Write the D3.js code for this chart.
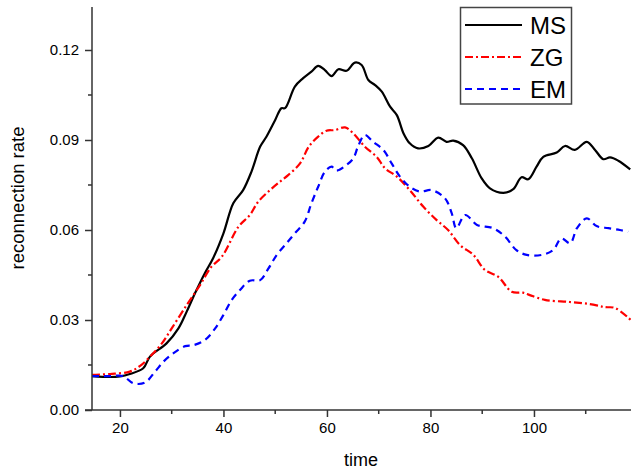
<!DOCTYPE html>
<html>
<head>
<meta charset="utf-8">
<script src="https://cdn.jsdelivr.net/npm/d3@7"></script>
<style>
  body { margin: 0; background: #fff; }
  svg { display: block; font-family: "Liberation Sans", Arial, sans-serif; }
  .axis path, .axis line { stroke: #333; stroke-width: 1.5; }
  .axis text { font-size: 15px; fill: #000; }
</style>
</head>
<body>
<svg id="chart" width="631" height="472"></svg>
<script>
// series: [time, rate]
const msData = [[14.6,0.0113],[18.1,0.0110],[20,0.0112],[21.9,0.0120],[24.5,0.0139],[25.8,0.0178],
  [29.0,0.0222],[31.3,0.0272],[32.9,0.0328],[34.5,0.0389],[36.4,0.0456],[38.0,0.0506],[40.0,0.0589],
  [41.9,0.0689],[43.8,0.0733],[45.4,0.0794],[47.1,0.0878],[48.3,0.0911],[50.0,0.0967],[51.2,0.1006],
  [51.9,0.1006],[53.8,0.1078],[55.4,0.1106],[57.0,0.1128],[58.3,0.1147],[59.6,0.1133],[60.9,0.1113],
  [62.2,0.1136],[63.8,0.1131],[65.4,0.1158],[66.7,0.1150],[68.0,0.1100],[69.3,0.1083],[70.6,0.1061],
  [72.2,0.1011],[73.5,0.0983],[74.8,0.0922],[76.0,0.0889],[77.6,0.0872],[79.6,0.0880],[81.5,0.0908],
  [83.1,0.0894],[84.4,0.0898],[86.3,0.0883],[88.0,0.0839],[89.9,0.0772],[91.5,0.0739],[94.1,0.0724],
  [96.0,0.0736],[97.6,0.0776],[98.9,0.0769],[100.5,0.0811],[101.8,0.0844],[104.4,0.0858],[106.0,0.0880],
  [107.9,0.0867],[110.2,0.0894],[111.8,0.0867],[113.4,0.0836],[114.7,0.0842],[116.3,0.0831],[118.6,0.0802]];

const zgData = [[14.6,0.0117],[18.1,0.0120],[21.9,0.0128],[23.9,0.0147],[26.1,0.0183],[28.1,0.0222],
  [30.0,0.0272],[32.9,0.0350],[35.5,0.0417],[37.7,0.0478],[39.7,0.0511],[42.9,0.0611],[45.1,0.0650],
  [46.7,0.0694],[49.0,0.0733],[50.9,0.0761],[52.5,0.0783],[54.8,0.0822],[56.5,0.0878],[58.3,0.0911],
  [59.9,0.0931],[61.5,0.0933],[63.5,0.0942],[65.1,0.0922],[67.3,0.0878],[69.6,0.0844],[71.2,0.0806],
  [73.5,0.0778],[76.0,0.0733],[78.6,0.0678],[81.2,0.0633],[83.4,0.0600],[85.7,0.0550],[88.3,0.0517],
  [90.5,0.0467],[93.1,0.0444],[95.7,0.0394],[97.9,0.0391],[99.2,0.0383],[102.1,0.0367],[106.9,0.0360],
  [110.8,0.0353],[113.7,0.0343],[115.7,0.0340],[118.7,0.0300]];

const emData = [[14.6,0.0113],[18.1,0.0113],[20.6,0.0113],[22.6,0.0089],[24.8,0.0091],[26.8,0.0128],
  [28.4,0.0161],[30.3,0.0189],[32.6,0.0213],[34.2,0.0216],[36.4,0.0233],[38.4,0.0272],[40.0,0.0317],
  [41.6,0.0367],[43.2,0.0400],[45.1,0.0431],[47.1,0.0433],[48.7,0.0472],[50.3,0.0517],[52.2,0.0556],
  [53.8,0.0589],[55.7,0.0628],[57.0,0.0689],[58.3,0.0744],[59.6,0.0794],[60.9,0.0811],[61.8,0.0798],
  [63.8,0.0817],[65.1,0.0839],[66.0,0.0878],[67.3,0.0917],[68.9,0.0894],[70.9,0.0867],[72.5,0.0822],
  [74.1,0.0778],[76.0,0.0744],[78.0,0.0728],[80.2,0.0733],[82.8,0.0706],[84.1,0.0656],[85.0,0.0606],
  [86.7,0.0650],[89.0,0.0617],[92.1,0.0606],[94.4,0.0578],[96.6,0.0533],[98.6,0.0517],[101.5,0.0517],
  [103.7,0.0533],[105.3,0.0572],[107.0,0.0556],[108.3,0.0606],[110.2,0.0639],[112.1,0.0613],
  [114.4,0.0606],[116.6,0.0600],[118.2,0.0594]];

const seriesNames = ["MS", "ZG", "EM"];
const xTicks = [20, 40, 60, 80, 100];
const xMinor = [30, 50, 70, 90, 110];
const yTicks = [0, 0.03, 0.06, 0.09, 0.12];
const yMinor = [0.015, 0.045, 0.075, 0.105];

const styles = {
  MS: { color: "#000000", dash: null },
  ZG: { color: "#ff0000", dash: "8,3,2,3" },
  EM: { color: "#0000ff", dash: "7,5" }
};

const svg = d3.select("#chart");
const margin = { left: 92, right: 631, top: 7, bottom: 410 };

const x = d3.scaleLinear().domain([14.6, 118.75]).range([margin.left, margin.right]);
const y = d3.scaleLinear().domain([0, 0.13433]).range([margin.bottom, margin.top]);

svg.append("defs").append("clipPath").attr("id", "clip")
  .append("rect").attr("x", margin.left).attr("y", margin.top)
  .attr("width", margin.right - margin.left).attr("height", margin.bottom - margin.top);

// lines
const line = d3.line().x(d => x(d[0])).y(d => y(d[1])).curve(d3.curveCatmullRom);
const plot = svg.append("g").attr("clip-path", "url(#clip)");
[msData, zgData, emData].forEach((data, i) => {
  const s = styles[seriesNames[i]];
  plot.append("path")
    .datum(data)
    .attr("fill", "none")
    .attr("stroke", s.color)
    .attr("stroke-width", 2.2)
    .attr("stroke-dasharray", s.dash)
    .attr("d", line);
});

// axes
const xAxis = svg.append("g").attr("class", "axis")
  .attr("transform", "translate(0," + margin.bottom + ")")
  .call(d3.axisBottom(x).tickValues(xTicks).tickSize(7).tickSizeOuter(0).tickPadding(5));
xAxis.select(".domain").attr("d", "M" + (margin.left - 7) + ",0H" + margin.right);
xAxis.selectAll(".minor").data(xMinor).enter().append("line")
  .attr("class", "minor").attr("x1", d => x(d)).attr("x2", d => x(d))
  .attr("y1", 0).attr("y2", 4);

const yAxis = svg.append("g").attr("class", "axis")
  .attr("transform", "translate(" + margin.left + ",0)")
  .call(d3.axisLeft(y).tickValues(yTicks).tickFormat(d3.format(".2f")).tickSize(7).tickSizeOuter(0).tickPadding(6));
yAxis.select(".domain").attr("d", "M0," + margin.top + "V" + margin.bottom);
yAxis.selectAll(".minor").data(yMinor).enter().append("line")
  .attr("class", "minor").attr("y1", d => y(d)).attr("y2", d => y(d))
  .attr("x1", 0).attr("x2", -4);

// axis titles
svg.append("text")
  .attr("x", 361).attr("y", 466)
  .attr("text-anchor", "middle")
  .style("font-size", "18px")
  .text("time");
svg.append("text")
  .attr("transform", "translate(24,198) rotate(-90)")
  .attr("text-anchor", "middle")
  .style("font-size", "18.5px")
  .text("reconnection rate");

// legend
const legend = svg.append("g");
legend.append("rect")
  .attr("x", 460.5).attr("y", 7.5).attr("width", 111).attr("height", 96.5)
  .attr("fill", "#fff").attr("stroke", "#444").attr("stroke-width", 1.5);
const rowY = d3.scalePoint().domain(seriesNames).range([25, 89]);
seriesNames.forEach(name => {
  const s = styles[name];
  legend.append("line")
    .attr("x1", 465).attr("x2", 522)
    .attr("y1", rowY(name)).attr("y2", rowY(name))
    .attr("stroke", s.color).attr("stroke-width", 2)
    .attr("stroke-dasharray", s.dash);
  legend.append("text")
    .attr("x", 530).attr("y", rowY(name) + 9)
    .style("font-size", "24px")
    .text(name);
});
</script>
</body>
</html>
